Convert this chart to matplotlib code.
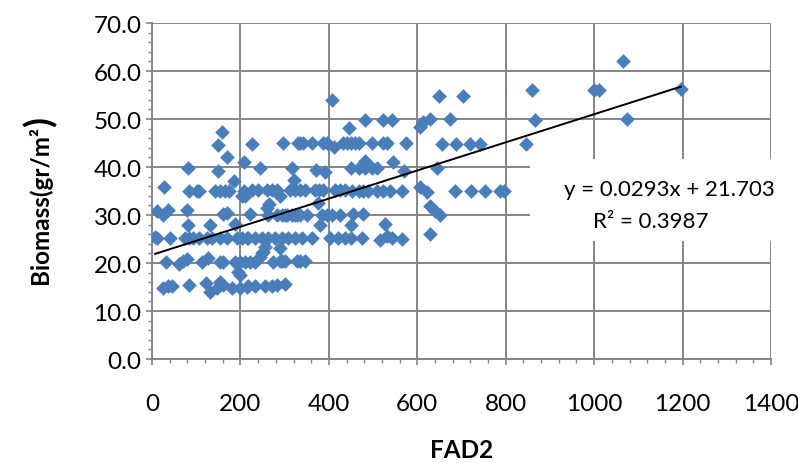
import matplotlib
matplotlib.use("Agg")
import matplotlib.pyplot as plt
from matplotlib.patches import Rectangle
from matplotlib.ticker import MultipleLocator, FormatStrFormatter
import numpy as np

# FAD2 expression vs biomass
fad2 = [
    # ~15
    24, 37, 45, 84, 122, 131, 148, 154, 160, 180, 199, 214, 218, 233, 256, 271, 282, 301,
    # ~18-23
    195, 200, 32, 60, 69, 80, 112, 127, 154, 161, 188, 199, 210, 222, 233, 244, 252,
    274, 290, 293, 301, 327, 335, 346, 248, 256, 290,
    # ~25
    7, 12, 41, 75, 84, 93, 107, 124, 135, 154, 170, 192, 203, 214, 218, 233, 248, 263,
    278, 293, 308, 323, 339, 361, 403, 421, 437, 450, 474, 516, 531, 542, 565, 629,
    # ~28
    82, 131, 188, 380, 450, 527,
    # ~30
    12, 24, 37, 78, 161, 170, 222, 259, 265, 263, 282, 293, 301, 305, 316, 323, 327,
    335, 350, 375, 384, 395, 406, 425, 455, 478, 629, 640, 651,
    # ~35
    27, 84, 102, 107, 142, 154, 165, 175, 203, 208, 210, 225, 240, 259, 271, 282, 290,
    312, 323, 335, 346, 369, 378, 387, 414, 425, 437, 452, 467, 478, 489, 508, 523,
    538, 565, 606, 621, 685, 722, 753, 787, 795,
    # ~40
    82, 149, 185, 170, 208, 244, 317, 322, 372, 391, 451, 467, 482, 482, 497, 508,
    546, 569, 645,
    # ~45
    149, 227, 297, 331, 335, 342, 361, 387, 395, 412, 433, 440, 450, 459, 467, 497,
    523, 531, 575, 655, 688, 719, 742, 845,
    # ~50
    158, 446, 482, 523, 542, 606, 614, 629, 674, 866, 1074,
    # top
    408, 650, 704, 860, 1000, 1012, 1065, 1196,
]
biomass = [
    14.9, 15.3, 15.3, 15.4, 15.8, 14.0, 14.7, 16.1, 15.4, 14.9, 14.9, 15.0, 15.3, 15.3,
    15.3, 15.3, 15.4, 15.6,
    18.2, 17.6, 20.3, 19.8, 20.5, 20.8, 20.2, 21.0, 20.3, 20.3, 20.2, 20.3, 20.3, 20.3,
    20.3, 21.2, 22.2, 20.3, 20.5, 20.5, 20.5, 20.5, 20.5, 20.5, 22.0, 23.3, 23.1,
    25.5, 25.3, 25.3, 25.3, 25.3, 25.3, 25.3, 25.3, 25.3, 25.3, 25.3, 25.3, 25.3, 25.3,
    25.2, 25.2, 25.2, 25.2, 25.2, 25.2, 25.2, 25.2, 25.2, 25.2, 25.2, 25.2, 25.2, 25.2,
    25.2, 24.9, 25.6, 25.2, 25.1, 26.0,
    28.0, 28.0, 28.1, 27.9, 27.9, 28.1,
    30.9, 30.0, 31.0, 31.0, 30.2, 30.5, 30.2, 31.5, 32.2, 30.0, 30.0, 30.0, 30.0, 30.0,
    30.0, 30.0, 30.0, 30.0, 30.0, 32.6, 30.0, 30.0, 30.0, 30.0, 30.2, 30.2, 31.9, 30.9,
    30.0,
    35.9, 35.1, 35.1, 35.1, 35.1, 35.1, 35.1, 35.1, 34.0, 35.1, 34.0, 35.3, 35.3, 35.3,
    35.3, 35.3, 34.0, 35.3, 35.3, 35.3, 35.3, 35.3, 35.3, 35.3, 35.3, 35.3, 35.3, 35.1,
    35.1, 35.1, 35.1, 35.1, 35.1, 35.1, 35.1, 35.8, 34.9, 35.1, 35.1, 35.1, 35.1, 35.1,
    39.9, 39.2, 37.0, 42.0, 41.1, 39.9, 39.9, 37.4, 39.4, 39.0, 39.9, 39.9, 39.9, 41.3,
    39.9, 39.9, 41.1, 39.2, 39.9,
    44.6, 44.8, 45.0, 45.0, 45.0, 45.0, 45.0, 45.0, 45.0, 44.1, 45.0, 45.0, 45.0, 45.0,
    45.0, 45.0, 45.0, 45.0, 45.0, 44.9, 44.9, 44.9, 44.9, 44.9,
    47.2, 48.1, 49.7, 49.7, 49.7, 48.3, 49.3, 50.0, 50.0, 49.8, 50.0,
    54.0, 54.7, 54.7, 56.1, 56.1, 56.1, 62.0, 56.3,
]

slope = 0.0293
intercept = 21.703
r2 = 0.3987

plt.rcParams["font.family"] = ["Lato", "DejaVu Sans"]

fig = plt.figure(figsize=(7.98, 4.64), dpi=100)
ax = fig.add_axes([0.1905, 0.2241, 0.7757, 0.7241])

ax.scatter(fad2, biomass, marker="D", s=56, color="#4a7ebb", linewidths=0, zorder=3)

xs = np.array([min(fad2), max(fad2)])
ax.plot(xs, slope * xs + intercept, color="black", lw=1.4, zorder=4)

ax.set_xlim(0, 1400)
ax.set_ylim(0, 70)
ax.xaxis.set_major_locator(MultipleLocator(200))
ax.xaxis.set_minor_locator(MultipleLocator(40))
ax.yaxis.set_major_locator(MultipleLocator(10))
ax.yaxis.set_minor_locator(MultipleLocator(2))
ax.yaxis.set_major_formatter(FormatStrFormatter("%.1f"))

ax.grid(True, which="major", color="#868686", lw=1.4, zorder=0)
for side in ["top", "right"]:
    ax.spines[side].set_visible(False)
for side in ["left", "bottom"]:
    ax.spines[side].set_color("#868686")
    ax.spines[side].set_linewidth(1.4)
ax.tick_params(which="major", length=4.5, width=1.2, color="#868686", labelsize=17.5)
ax.tick_params(which="minor", length=3, width=1, color="#868686")
ax.tick_params(axis="x", which="major", pad=20)
ax.tick_params(axis="y", which="major", pad=3)

ax.set_xlabel("FAD2", fontsize=17.5, fontweight="bold")
ax.xaxis.set_label_coords(0.5, -0.235)

# y label, with the oversized closing bracket as in the original
ax.text(-0.181, 0.462, "Biomass(gr/m²", transform=ax.transAxes, rotation=90,
        ha="center", va="center", fontsize=17.5, fontweight="bold")
ax.text(-0.181, 0.71, ")", transform=ax.transAxes, rotation=90,
        ha="center", va="center", fontsize=26, fontweight="bold")

# equation box
ax.add_patch(Rectangle((0.611, 0.351), 0.428, 0.244, transform=ax.transAxes,
                       facecolor="white", edgecolor="none", zorder=5, clip_on=False))
ax.text(0.835, 0.506, f"y = {slope}x + {intercept}", transform=ax.transAxes,
        fontsize=16, ha="center", va="center", zorder=6)
ax.text(0.805, 0.411, f"R² = {r2}", transform=ax.transAxes,
        fontsize=16, ha="center", va="center", zorder=6)

fig.savefig("out.png", dpi=100)
